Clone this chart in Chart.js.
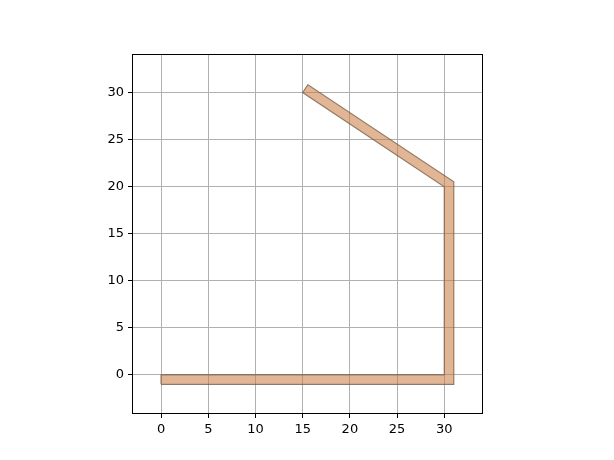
<!DOCTYPE html>
<html>
<head>
<meta charset="utf-8">
<script src="https://cdn.jsdelivr.net/npm/chart.js@4/dist/chart.umd.min.js"></script>
<style>
  html, body { margin: 0; padding: 0; background: #fff; }
  #wrap { width: 614px; height: 460px; }
</style>
</head>
<body>
<div id="wrap"><canvas id="chart" width="614" height="460"></canvas></div>
<script>
// Vértices del polígono (línea con grosor)
const polyX = [0, 0, 30, 30, 15, 15.55, 31, 31];
const polyY = [-1, 0, 0, 20, 30, 30.83, 20.53, -1];

// Marcas de los ejes
const xTicks = [0, 5, 10, 15, 20, 25, 30];
const yTicks = [0, 5, 10, 15, 20, 25, 30];

const fillColor = "rgba(200, 122, 64, 0.55)";
const edgeColor = "rgba(90, 75, 60, 0.75)";

// Puntos para el relleno y para el contorno cerrado
const fillPoints = polyX.map((x, i) => ({ x: x, y: polyY[i] }));
const edgePoints = fillPoints.concat([fillPoints[0]]);

// Dibuja el marco completo alrededor del área del gráfico
const frameBox = {
    id: "frameBox",
    afterDraw(chart) {
        const { ctx, chartArea: a } = chart;
        ctx.save();
        ctx.strokeStyle = "#000";
        ctx.lineWidth = 1;
        ctx.strokeRect(a.left + 0.5, a.top + 0.5, a.right - a.left - 1, a.bottom - a.top - 1);
        ctx.restore();
    }
};

const tickFont = { family: "DejaVu Sans", size: 13 };

new Chart(document.getElementById("chart").getContext("2d"), {
    type: "scatter",
    data: {
        datasets: [
            {
                data: fillPoints,
                showLine: true,
                fill: "shape",
                backgroundColor: fillColor,
                borderWidth: 0,
                pointRadius: 0,
                tension: 0
            },
            {
                data: edgePoints,
                showLine: true,
                fill: false,
                borderColor: edgeColor,
                borderWidth: 1.2,
                pointRadius: 0,
                tension: 0
            }
        ]
    },
    options: {
        responsive: false,
        animation: false,
        layout: { padding: { top: 54, right: 131, left: 0, bottom: 0 } },
        plugins: {
            legend: { display: false },
            tooltip: { enabled: false }
        },
        scales: {
            x: {
                type: "linear",
                min: -3.08,
                max: 34.1,
                afterBuildTicks: (s) => { s.ticks = xTicks.map(v => ({ value: v })); },
                afterFit: (s) => { s.height = 46; },
                grid: { color: "#b0b0b0", lineWidth: 1, tickLength: 4, tickColor: "#000" },
                border: { display: false },
                ticks: { color: "#000", font: tickFont, padding: 4, maxRotation: 0 }
            },
            y: {
                type: "linear",
                min: -4.15,
                max: 34.1,
                afterBuildTicks: (s) => { s.ticks = yTicks.map(v => ({ value: v })); },
                afterFit: (s) => { s.width = 132; },
                grid: { color: "#b0b0b0", lineWidth: 1, tickLength: 4, tickColor: "#000" },
                border: { display: false },
                ticks: { color: "#000", font: tickFont, padding: 4 }
            }
        }
    },
    plugins: [frameBox]
});
</script>
</body>
</html>
